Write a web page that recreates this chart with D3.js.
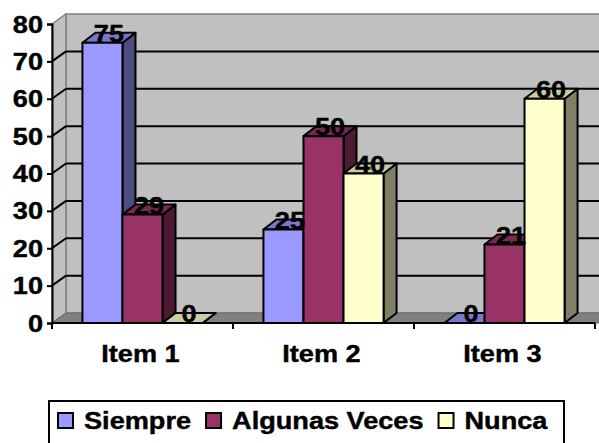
<!DOCTYPE html>
<html>
<head>
<meta charset="utf-8">
<script src="https://cdn.jsdelivr.net/npm/d3@7"></script>
<style>
  html, body { margin: 0; padding: 0; background: #fff; }
  svg { display: block; }
  text { font-family: Arial, "Liberation Sans", sans-serif; font-weight: bold; fill: #000;
         stroke: #000; stroke-width: 0.4px; }
</style>
</head>
<body>
<svg id="chart" width="599" height="443"></svg>
<script>
// Survey answers per item
const categories = ["Item 1", "Item 2", "Item 3"];
const seriesNames = ["Siempre", "Algunas Veces", "Nunca"];
const siempre = [75, 25, 0];
const algunasVeces = [29, 50, 21];
const nunca = [0, 40, 60];
const yTicks = [0, 10, 20, 30, 40, 50, 60, 70, 80];

const seriesValues = [siempre, algunasVeces, nunca];
const palette = {
  "Siempre":       { front: "#9999ff", top: "#7777cc", side: "#4d4d80" },
  "Algunas Veces": { front: "#993366", top: "#7a2952", side: "#4d1a33" },
  "Nunca":         { front: "#ffffcc", top: "#cccca3", side: "#808066" }
};

const svg = d3.select("#chart");
const fontSize = 23;
const stretch = 1.18; // wide lettering used throughout the chart

// place a text node at (x, y) with the horizontal stretch applied
function placeText(sel, x, y) {
  sel.attr("x", 0).attr("y", 0)
    .attr("transform", (d, i, n) => {
      const px = typeof x === "function" ? x(d, i, n) : x;
      const py = typeof y === "function" ? y(d, i, n) : y;
      return `translate(${px},${py}) scale(${stretch},1)`;
    });
  return sel;
}

// plot geometry (front plane) and 3-D depth offsets
const plotLeft = 52, plotRight = 595, plotBottom = 323, plotTop = 24;
const wallDx = 14, wallDy = -10;
const barDx = 13, barDy = -10;

const y = d3.scaleLinear().domain([0, 80]).range([plotBottom, plotTop]);
const x0 = d3.scaleBand().domain(categories).range([plotLeft, plotRight]).padding(0);
const x1 = d3.scaleBand().domain(seriesNames).range([0, x0.bandwidth()])
  .paddingInner(0).paddingOuter(0.76);

// walls
const wallFill = "#c0c0c0", wallEdge = "#808080";
svg.append("rect")
  .attr("x", plotLeft + wallDx).attr("y", plotTop + wallDy)
  .attr("width", 620 - plotLeft - wallDx).attr("height", plotBottom - plotTop)
  .attr("fill", wallFill).attr("stroke", wallEdge).attr("stroke-width", 1.5);

svg.append("polygon")
  .attr("points", [[plotLeft, plotTop], [plotLeft + wallDx, plotTop + wallDy], [plotLeft + wallDx, plotBottom + wallDy], [plotLeft, plotBottom]].join(" "))
  .attr("fill", wallFill).attr("stroke", wallEdge).attr("stroke-width", 1.5);

// floor
svg.append("polygon")
  .attr("points", [[plotLeft, plotBottom], [plotLeft + wallDx, plotBottom + wallDy], [620, plotBottom + wallDy], [620, plotBottom]].join(" "))
  .attr("fill", "#808080").attr("stroke", "#6a6a6a").attr("stroke-width", 1);

// gridlines on side wall and back wall
const grid = svg.append("g").attr("stroke", "#000").attr("stroke-width", 2).attr("fill", "none");
yTicks.filter(v => v > 0 && v < 80).forEach(v => {
  grid.append("line")
    .attr("x1", plotLeft).attr("y1", y(v))
    .attr("x2", plotLeft + wallDx).attr("y2", y(v) + wallDy);
  grid.append("line")
    .attr("x1", plotLeft + wallDx).attr("y1", y(v) + wallDy)
    .attr("x2", 620).attr("y2", y(v) + wallDy);
});

// bars
const rows = [];
categories.forEach((c, i) => {
  seriesNames.forEach((s, j) => rows.push({ cat: c, series: s, value: seriesValues[j][i] }));
});

const bars = svg.append("g").selectAll("g").data(rows).join("g");
bars.each(function (d) {
  const g = d3.select(this);
  const bx = x0(d.cat) + x1(d.series);
  const bw = x1.bandwidth();
  const by = y(d.value);
  const col = palette[d.series];
  const poly = (pts, fill) => g.append("polygon").attr("points", pts.join(" "))
    .attr("fill", fill).attr("stroke", "#000").attr("stroke-width", 2)
    .attr("stroke-linejoin", "round");
  // side face
  poly([[bx + bw, by], [bx + bw + barDx, by + barDy], [bx + bw + barDx, plotBottom + barDy], [bx + bw, plotBottom]], col.side);
  // top face
  poly([[bx, by], [bx + barDx, by + barDy], [bx + bw + barDx, by + barDy], [bx + bw, by]], col.top);
  // front face
  if (d.value > 0) poly([[bx, by], [bx + bw, by], [bx + bw, plotBottom], [bx, plotBottom]], col.front);
});

// value labels
placeText(
  svg.append("g").selectAll("text").data(rows).join("text")
    .attr("text-anchor", "middle").attr("font-size", fontSize).text(d => d.value),
  d => x0(d.cat) + x1(d.series) + x1.bandwidth() / 2 + barDx / 2,
  d => y(d.value) - 1
);

// value axis
const yAxis = svg.append("g")
  .attr("transform", `translate(${plotLeft},0)`)
  .call(d3.axisLeft(y).tickValues(yTicks).tickSize(5).tickPadding(5));
yAxis.select(".domain").attr("stroke", "#000").attr("stroke-width", 2);
yAxis.selectAll(".tick line").attr("stroke", "#000").attr("stroke-width", 2);
yAxis.selectAll(".tick text")
  .attr("font-size", fontSize).attr("font-family", "Arial, 'Liberation Sans', sans-serif")
  .attr("font-weight", "bold").attr("fill", "#000").attr("dy", null)
  .attr("dominant-baseline", null);
placeText(yAxis.selectAll(".tick text"), -9, 8);

// category axis: line with ticks at the category boundaries
const boundaries = categories.map(c => x0(c)).concat([x0.range()[1]]);
const xAxis = svg.append("g").attr("transform", `translate(0,${plotBottom})`);
xAxis.append("line").attr("x1", plotLeft).attr("x2", plotRight)
  .attr("stroke", "#000").attr("stroke-width", 2);
xAxis.selectAll("line.tk").data(boundaries).join("line").attr("class", "tk")
  .attr("x1", d => d).attr("x2", d => d).attr("y1", 0).attr("y2", 6)
  .attr("stroke", "#000").attr("stroke-width", 2);
placeText(
  xAxis.selectAll("text").data(categories).join("text")
    .attr("text-anchor", "middle").attr("font-size", fontSize).text(d => d),
  d => x0(d) + x0.bandwidth() / 2 - 2,
  39
);

// legend
const legend = svg.append("g");
legend.append("rect")
  .attr("x", 49).attr("y", 401).attr("width", 515).attr("height", 50)
  .attr("fill", "#fff").attr("stroke", "#000").attr("stroke-width", 2);
let lx = 58;
seriesNames.forEach(s => {
  legend.append("rect")
    .attr("x", lx).attr("y", 413).attr("width", 15).attr("height", 15)
    .attr("fill", palette[s].front).attr("stroke", "#000").attr("stroke-width", 2);
  const t = legend.append("text").attr("font-size", fontSize).text(s);
  placeText(t, lx + 26, 429);
  lx += 26 + t.node().getComputedTextLength() * stretch + 15;
});
</script>
</body>
</html>
